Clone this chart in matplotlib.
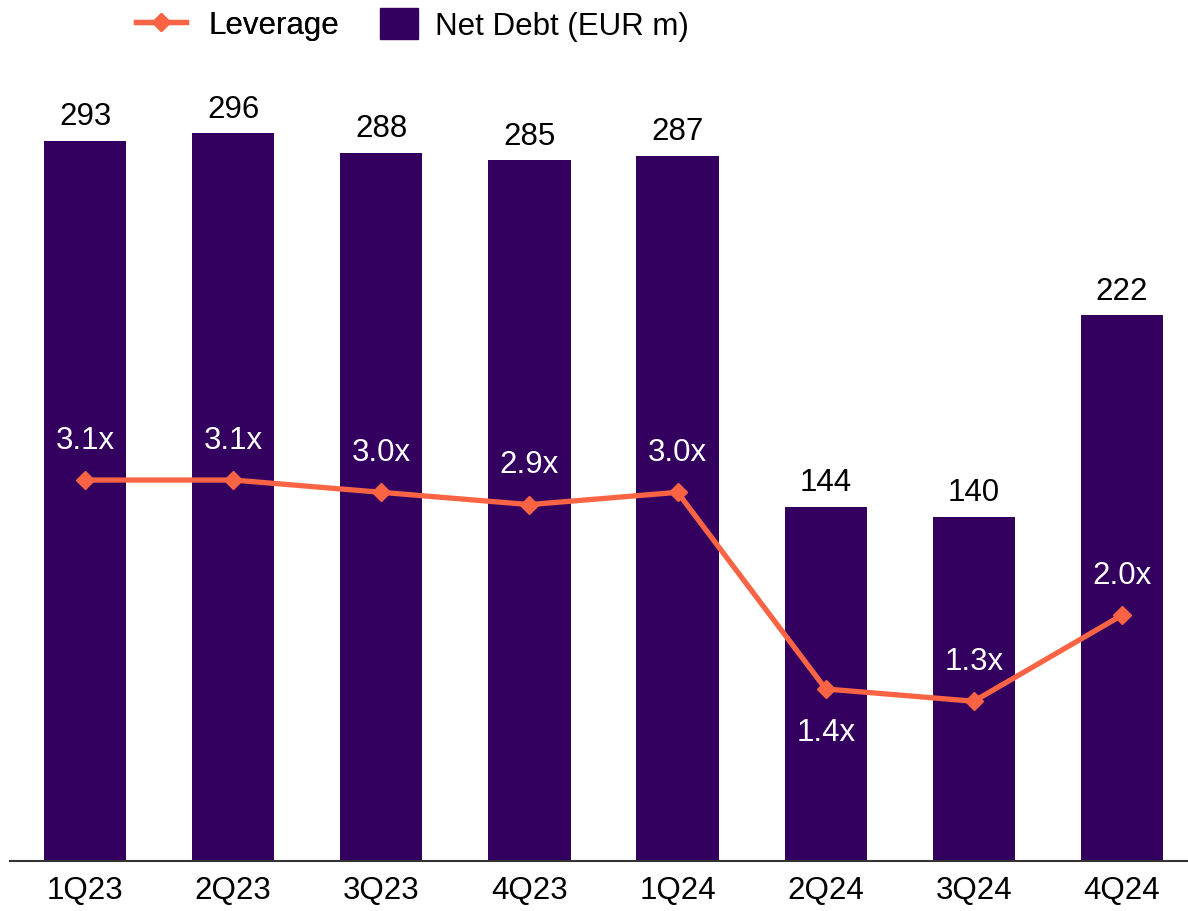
import matplotlib.pyplot as plt
from matplotlib.lines import Line2D
from matplotlib.patches import Patch

plt.rcParams['font.family'] = ['Liberation Sans', 'DejaVu Sans']

quarters = ['1Q23', '2Q23', '3Q23', '4Q23', '1Q24', '2Q24', '3Q24', '4Q24']
net_debt = [293, 296, 288, 285, 287, 144, 140, 222]
leverage = [3.1, 3.1, 3.0, 2.9, 3.0, 1.4, 1.3, 2.0]
lev_labels = ['3.1x', '3.1x', '3.0x', '2.9x', '3.0x', '1.4x', '1.3x', '2.0x']
lev_below = [False, False, False, False, False, True, False, False]

bar_color = '#33005F'
line_color = '#FA6445'
fs = 22.5

fig = plt.figure(figsize=(11.88, 9.12), dpi=100)
ax = fig.add_axes([0.0084, 0.0548, 0.9916, 0.8355])
x = list(range(len(quarters)))

ax.bar(x, net_debt, width=0.555, color=bar_color, zorder=2)
for xi, v in zip(x, net_debt):
    ax.annotate(str(v), (xi, v), xytext=(0, 7), textcoords='offset points',
                ha='center', va='bottom', fontsize=fs, color='black')

ymax = 310
ax.set_ylim(0, ymax)
ax.set_xlim(-0.507, 7.446)
ax.set_xticks(x)
ax.set_xticklabels(quarters, fontsize=fs)
ax.tick_params(axis='x', length=0, pad=10)
ax.set_yticks([])
for s in ['top', 'right', 'left']:
    ax.spines[s].set_visible(False)
ax.spines['bottom'].set_color('#333333')
ax.spines['bottom'].set_linewidth(1.5)

ax2 = ax.twinx()
ax2.set_ylim(0, ymax / 50)
ax2.plot(x, leverage, color=line_color, lw=3.8, marker='D', markersize=9, zorder=3)
for xi, v, lab, below in zip(x, leverage, lev_labels, lev_below):
    off = -31 if below else 29
    ax2.annotate(lab, (xi, v), xytext=(0, off), textcoords='offset points',
                 ha='center', va='center', fontsize=fs, color='white')
ax2.set_yticks([])
for s in ['top', 'right', 'left', 'bottom']:
    ax2.spines[s].set_visible(False)

# two legends so the line handle and the square can have different widths
leg1 = fig.legend([Line2D([0], [0], color=line_color, lw=3.8, marker='D', markersize=9)],
                  ['Leverage'], loc='center left', bbox_to_anchor=(0.1145, 0.972),
                  frameon=False, fontsize=fs, handlelength=1.6, handletextpad=0.7,
                  borderaxespad=0, borderpad=0)
fig.add_artist(leg1)
fig.legend([Patch(color=bar_color)], ['Net Debt (EUR m)'], loc='center left',
           bbox_to_anchor=(0.320, 0.972), frameon=False, fontsize=fs,
           handlelength=1.2, handleheight=1.15, handletextpad=0.55,
           borderaxespad=0, borderpad=0)

fig.savefig('out.png', dpi=100)
